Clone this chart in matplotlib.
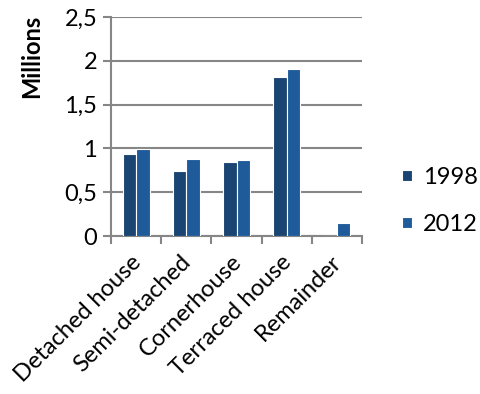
import numpy as np
import matplotlib.pyplot as plt
import matplotlib.transforms as mtransforms

plt.rcParams['font.family'] = ['Lato', 'DejaVu Sans']

# 数据
categories = ['Detached house', 'Semi-detached', 'Cornerhouse', 'Terraced house', 'Remainder']
values1998 = [0.94, 0.74, 0.85, 1.815, 0]
values2012 = [0.99, 0.875, 0.87, 1.91, 0.148]
yticks = [0, 0.5, 1, 1.5, 2, 2.5]
ytickLabels = ['0', '0,5', '1', '1,5', '2', '2,5']

grey = '#868686'
fs = 17

fig = plt.figure(figsize=(4.81, 3.94), dpi=100)
ax = fig.add_axes([0.2308, 0.401, 0.5218, 0.5559])

x = np.arange(len(categories))
w = 0.27
ax.bar(x - w / 2, values1998, w, color='#1A4472', edgecolor='white', linewidth=0.8, label='1998', zorder=3)
ax.bar(x + w / 2, values2012, w, color='#1F5B9A', edgecolor='white', linewidth=0.8, label='2012', zorder=3)

ax.set_xlim(-0.5, len(categories) - 0.5)
ax.set_ylim(0, 2.5)
ax.set_yticks(yticks)
ax.set_yticklabels(ytickLabels, fontsize=fs)
ax.set_xticks(x)
ax.set_xticklabels(categories, rotation=45, ha='right', rotation_mode='anchor', fontsize=fs)
ax.set_xticks(np.arange(len(categories) + 1) - 0.5, minor=True)
ax.tick_params(axis='x', which='major', length=0, pad=11)
ax.tick_params(axis='x', which='minor', length=6, width=1.5, color=grey)
ax.tick_params(axis='y', length=6, width=1.5, color=grey, pad=4)

# 标签整体左移一点
offset = mtransforms.ScaledTranslation(-6 / 100, 0, fig.dpi_scale_trans)
for lbl in ax.get_xticklabels():
    lbl.set_transform(lbl.get_transform() + offset)

ax.grid(axis='y', color=grey, linewidth=1.5, zorder=0)
for s in ['top', 'right']:
    ax.spines[s].set_visible(False)
for s in ['left', 'bottom']:
    ax.spines[s].set_color(grey)
    ax.spines[s].set_linewidth(1.5)

ax.set_ylabel('Millions', fontsize=fs, fontweight='bold')
ax.yaxis.set_label_coords(-0.27, 0.82)

ax.legend(loc='center left', bbox_to_anchor=(1.075, 0.16), frameon=False, fontsize=fs,
          handlelength=0.4, handleheight=0.4, handletextpad=0.5, labelspacing=1.1)

fig.savefig('out.png', dpi=100)
